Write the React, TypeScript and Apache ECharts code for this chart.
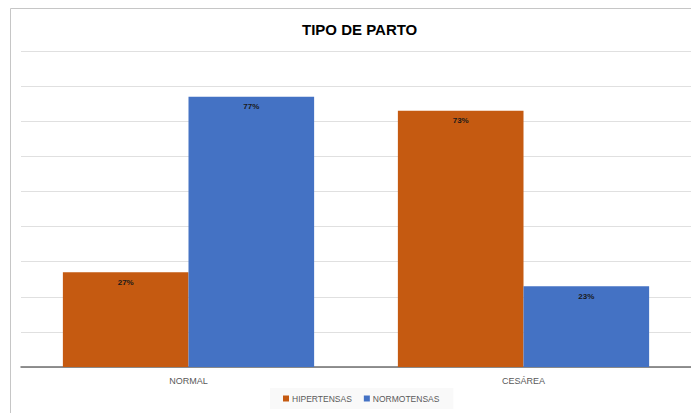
import React, { useEffect, useRef } from "react";
import * as echarts from "echarts";

const categories = ["NORMAL", "CESÁREA"];
const hipertensas = [27, 73];
const normotensas = [77, 23];
const seriesNames = ["HIPERTENSAS", "NORMOTENSAS"];
const titleText = "TIPO DE PARTO";

export default function App() {
  const ref = useRef<HTMLDivElement>(null);
  useEffect(() => {
    if (!ref.current) return;
    const chart = echarts.init(ref.current, null, { renderer: "svg" });
    const label = {
      show: true,
      position: "insideTop",
      distance: 6,
      formatter: "{c}%",
      fontSize: 8,
      fontWeight: "bold",
      color: "#1a1a1a",
      fontFamily: "Liberation Sans, Arial, sans-serif",
    };
    chart.setOption({
      animation: false,
      backgroundColor: "#ffffff",
      title: {
        text: titleText,
        left: 297,
        top: 17,
        textStyle: {
          fontSize: 15,
          fontWeight: "bold",
          color: "#000000",
          fontFamily: "Liberation Sans, Arial, sans-serif",
        },
      },
      graphic: [
        {
          type: "polyline",
          shape: { points: [[10.5, 420], [10.5, 8.5], [700, 8.5]] },
          style: { stroke: "#c6c6c6", fill: "none", lineWidth: 1 },
          silent: true,
        },
      ],
      legend: {
        data: seriesNames,
        top: 388,
        left: 270,
        itemWidth: 6,
        itemHeight: 6,
        itemGap: 12,
        icon: "rect",
        backgroundColor: "#f9f9f9",
        padding: [6, 14, 6, 13],
        textStyle: {
          fontSize: 8.5,
          color: "#595959",
          fontFamily: "Liberation Sans, Arial, sans-serif",
          padding: [0, 0, 0, -2],
        },
      },
      grid: { left: 21, right: 0, top: 51, bottom: 46, containLabel: false },
      xAxis: {
        type: "category",
        data: categories,
        axisTick: { show: false },
        axisLine: { show: true, lineStyle: { color: "#6e6e6e", width: 1.5 } },
        axisLabel: {
          fontSize: 9,
          color: "#595959",
          margin: 9,
          fontFamily: "Liberation Sans, Arial, sans-serif",
        },
      },
      yAxis: {
        type: "value",
        min: 0,
        max: 90,
        interval: 10,
        axisLabel: { show: false },
        axisLine: { show: false },
        axisTick: { show: false },
        splitLine: { show: true, lineStyle: { color: "#e0e0e0", width: 1 } },
      },
      series: [
        {
          name: seriesNames[0],
          type: "bar",
          data: hipertensas,
          itemStyle: { color: "#C55A11" },
          barGap: "0%",
          barCategoryGap: "25%",
          label,
        },
        {
          name: seriesNames[1],
          type: "bar",
          data: normotensas,
          itemStyle: { color: "#4472C4" },
          barGap: "0%",
          barCategoryGap: "25%",
          label,
        },
      ],
    });
    return () => chart.dispose();
  }, []);
  return (
    <div
      ref={ref}
      style={{ position: "fixed", left: 0, top: 0, width: 691, height: 413 }}
    />
  );
}
